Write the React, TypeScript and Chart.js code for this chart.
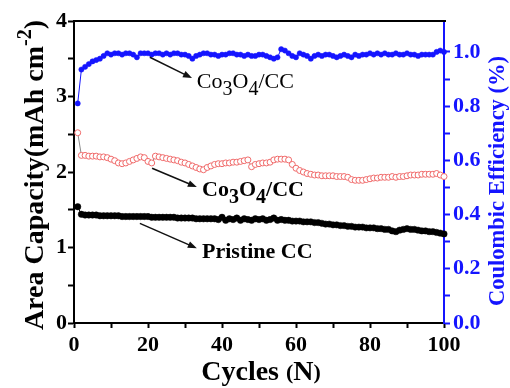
import React, { useEffect, useRef } from 'react';
import { Chart, registerables } from 'chart.js';

Chart.register(...registerables);

const FONT = '"Liberation Serif", "Times New Roman", serif';
const BLUE = '#1515ff';

// Cycle numbers 1..100
const cycles: number[] = Array.from({ length: 100 }, (_, i) => i + 1);

// Coulombic efficiency (right axis)
const coulombicEfficiency = [
  0.81, 0.935, 0.945, 0.955, 0.965, 0.97, 0.975, 0.985, 0.995, 0.99,
  0.995, 0.995, 0.99, 0.995, 0.995, 0.99, 0.98, 0.995, 0.995, 0.995,
  0.99, 0.995, 0.995, 0.99, 0.995, 0.99, 0.995, 0.995, 0.99, 0.99,
  0.985, 0.975, 0.985, 0.99, 0.995, 0.995, 0.99, 0.99, 0.985, 0.99,
  0.99, 0.995, 0.995, 0.99, 0.99, 0.985, 0.99, 0.985, 0.985, 0.99,
  0.99, 0.985, 0.98, 0.975, 0.98, 1.01, 1.005, 0.995, 0.985, 0.98,
  0.995, 0.99, 0.985, 0.975, 0.985, 0.99, 0.985, 0.99, 0.99, 0.985,
  0.98, 0.985, 0.99, 0.985, 0.98, 0.99, 0.985, 0.99, 0.99, 0.995,
  0.99, 0.995, 0.99, 0.995, 0.99, 0.99, 0.995, 0.99, 0.99, 0.995,
  0.99, 0.99, 0.985, 0.99, 0.99, 0.99, 0.99, 1.0, 1.005, 1.0,
];

// Co3O4/CC area capacity (left axis)
const co3o4Capacity = [
  2.52, 2.22, 2.22, 2.21, 2.21, 2.21, 2.20, 2.20, 2.19, 2.17,
  2.15, 2.12, 2.11, 2.12, 2.14, 2.16, 2.18, 2.20, 2.19, 2.14,
  2.12, 2.21, 2.20, 2.19, 2.18, 2.17, 2.16, 2.15, 2.13, 2.12,
  2.10, 2.08, 2.06, 2.04, 2.03, 2.06, 2.08, 2.10, 2.11, 2.11,
  2.12, 2.12, 2.13, 2.13, 2.14, 2.15, 2.16, 2.07, 2.10, 2.11,
  2.12, 2.12, 2.13, 2.16, 2.17, 2.17, 2.17, 2.16, 2.10, 2.05,
  2.02, 2.00, 1.98, 1.97, 1.96, 1.96, 1.95, 1.95, 1.95, 1.95,
  1.94, 1.94, 1.94, 1.93, 1.90, 1.89, 1.89, 1.89, 1.90, 1.91,
  1.92, 1.92, 1.93, 1.93, 1.93, 1.94, 1.93, 1.94, 1.94, 1.95,
  1.96, 1.96, 1.96, 1.97, 1.97, 1.97, 1.97, 1.98, 1.96, 1.94,
];

// Pristine CC area capacity (left axis)
const pristineCapacity = [
  1.54, 1.44, 1.43, 1.43, 1.43, 1.43, 1.42, 1.42, 1.42, 1.42,
  1.42, 1.42, 1.41, 1.41, 1.41, 1.41, 1.41, 1.41, 1.41, 1.41,
  1.40, 1.40, 1.40, 1.40, 1.40, 1.40, 1.40, 1.39, 1.39, 1.39,
  1.39, 1.39, 1.38, 1.38, 1.38, 1.38, 1.38, 1.38, 1.37, 1.40,
  1.36, 1.38, 1.37, 1.39, 1.36, 1.38, 1.37, 1.36, 1.38, 1.37,
  1.38, 1.36, 1.37, 1.39, 1.36, 1.37, 1.36, 1.36, 1.35, 1.35,
  1.35, 1.34, 1.34, 1.34, 1.33, 1.33, 1.32, 1.31, 1.31, 1.30,
  1.30, 1.29, 1.29, 1.28, 1.28, 1.27, 1.27, 1.27, 1.26, 1.26,
  1.26, 1.25, 1.25, 1.24, 1.24, 1.22, 1.21, 1.23, 1.24, 1.25,
  1.24, 1.24, 1.23, 1.22, 1.22, 1.21, 1.21, 1.20, 1.19, 1.18,
];

const rightTickValues = [0, 0.1, 0.2, 0.3, 0.4, 0.5, 0.6, 0.7, 0.8, 0.9, 1.0];

// Axis title pieces (superscript / subscript flagged)
type Piece = { t: string; sub?: boolean; sup?: boolean; small?: boolean };
const leftTitle: Piece[] = [{ t: 'Area Capacity(mAh cm' }, { t: '-2', sup: true }, { t: ')' }];
const rightTitle: Piece[] = [{ t: 'Coulombic Efficiency (%)' }];
const bottomTitle: Piece[] = [{ t: 'Cycles ' }, { t: '(', small: true }, { t: 'N' }, { t: ')', small: true }];

// Annotations, in data coordinates (cycle, area capacity)
const annotationTexts: Piece[][] = [
  [{ t: 'Co' }, { t: '3', sub: true }, { t: 'O' }, { t: '4', sub: true }, { t: '/CC' }],
  [{ t: 'Co' }, { t: '3', sub: true }, { t: 'O' }, { t: '4', sub: true }, { t: '/CC' }],
  [{ t: 'Pristine CC' }],
];
const annotationWeights = ['normal', 'bold', 'bold'];
const arrowFrom: [number, number][] = [[20.5, 3.52], [21.1, 2.05], [17.8, 1.32]];
const arrowTo: [number, number][] = [[31.9, 3.245], [33.2, 1.80], [33.2, 0.99]];
const textAt: [number, number][] = [[33.2, 3.19], [34.6, 1.76], [34.6, 0.94]];

const toXY = (xs: number[], ys: number[]) => xs.map((x, i) => ({ x, y: ys[i] }));

function drawPieces(ctx: any, pieces: Piece[], size: number, weight: string, cx: number, cy: number) {
  const fontFor = (p: Piece) => {
    const s = p.sup || p.sub ? size * 0.72 : p.small ? size * 0.78 : size;
    return `${weight} ${s}px ${FONT}`;
  };
  let total = 0;
  for (const p of pieces) {
    ctx.font = fontFor(p);
    total += ctx.measureText(p.t).width;
  }
  let x = cx - total / 2;
  ctx.textAlign = 'left';
  ctx.textBaseline = 'alphabetic';
  const baseY = cy + size * 0.34;
  for (const p of pieces) {
    ctx.font = fontFor(p);
    const dy = p.sup ? -size * 0.42 : p.sub ? size * 0.3 : p.small ? -size * 0.04 : 0;
    ctx.fillText(p.t, x, baseY + dy);
    x += ctx.measureText(p.t).width;
  }
}

const framePlugin = {
  id: 'frameAndNotes',
  afterDraw(chart: any) {
    const { ctx, chartArea, scales } = chart;
    ctx.save();
    // top frame line
    ctx.strokeStyle = '#000';
    ctx.lineWidth = 2;
    ctx.beginPath();
    ctx.moveTo(chartArea.left - 1, chartArea.top);
    ctx.lineTo(chartArea.right + 2, chartArea.top);
    ctx.stroke();

    // left axis title (rotated, reads bottom to top)
    ctx.save();
    ctx.translate(33, (chartArea.top + chartArea.bottom) / 2 + 3);
    ctx.rotate(-Math.PI / 2);
    ctx.fillStyle = '#000';
    drawPieces(ctx, leftTitle, 28, 'bold', 0, 0);
    ctx.restore();

    // right axis title (rotated, reads bottom to top)
    ctx.save();
    ctx.translate(496, (chartArea.top + chartArea.bottom) / 2 + 9);
    ctx.rotate(-Math.PI / 2);
    ctx.fillStyle = BLUE;
    drawPieces(ctx, rightTitle, 22.5, 'bold', 0, 0);
    ctx.restore();

    // bottom axis title
    ctx.fillStyle = '#000';
    drawPieces(ctx, bottomTitle, 28, 'bold', (chartArea.left + chartArea.right) / 2 + 2, 370.5);

    const xs = scales.x;
    const ys = scales.y;
    for (let i = 0; i < annotationTexts.length; i++) {
      const x1 = xs.getPixelForValue(arrowFrom[i][0]);
      const y1 = ys.getPixelForValue(arrowFrom[i][1]);
      const x2 = xs.getPixelForValue(arrowTo[i][0]);
      const y2 = ys.getPixelForValue(arrowTo[i][1]);
      const ang = Math.atan2(y2 - y1, x2 - x1);
      const headLen = 9;
      const headW = 3.5;
      ctx.strokeStyle = '#111';
      ctx.fillStyle = '#111';
      ctx.lineWidth = 1.5;
      ctx.beginPath();
      ctx.moveTo(x1, y1);
      ctx.lineTo(x2 - Math.cos(ang) * headLen * 0.8, y2 - Math.sin(ang) * headLen * 0.8);
      ctx.stroke();
      ctx.beginPath();
      ctx.moveTo(x2, y2);
      ctx.lineTo(
        x2 - Math.cos(ang) * headLen - Math.sin(ang) * headW,
        y2 - Math.sin(ang) * headLen + Math.cos(ang) * headW
      );
      ctx.lineTo(
        x2 - Math.cos(ang) * headLen + Math.sin(ang) * headW,
        y2 - Math.sin(ang) * headLen - Math.cos(ang) * headW
      );
      ctx.closePath();
      ctx.fill();

      let tx = xs.getPixelForValue(textAt[i][0]);
      const ty = ys.getPixelForValue(textAt[i][1]);
      const w = annotationWeights[i];
      ctx.textBaseline = 'middle';
      ctx.textAlign = 'left';
      ctx.fillStyle = '#000';
      for (const p of annotationTexts[i]) {
        const size = p.sub ? 20 : 22;
        ctx.font = `${w} ${size}px ${FONT}`;
        ctx.fillText(p.t, tx, p.sub ? ty + 8 : ty);
        tx += ctx.measureText(p.t).width;
      }
    }
    ctx.restore();
  },
};

export default function App() {
  const canvasRef = useRef<HTMLCanvasElement | null>(null);

  useEffect(() => {
    document.body.style.margin = '0';
    const canvas = canvasRef.current;
    if (!canvas) return;
    const chart = new Chart(canvas, {
      type: 'line',
      data: {
        datasets: [
          {
            label: 'Pristine CC',
            data: toXY(cycles, pristineCapacity),
            yAxisID: 'y',
            borderColor: '#000',
            borderWidth: 1,
            backgroundColor: '#000',
            pointBackgroundColor: '#000',
            pointBorderColor: '#000',
            pointStyle: 'circle',
            pointRadius: 3.2,
            pointBorderWidth: 0.5,
            clip: false,
          },
          {
            label: 'Co3O4/CC capacity',
            data: toXY(cycles, co3o4Capacity),
            yAxisID: 'y',
            borderColor: '#8c8c8c',
            borderWidth: 1,
            pointBackgroundColor: '#fff',
            pointBorderColor: '#f06a6a',
            pointStyle: 'circle',
            pointRadius: 3,
            pointBorderWidth: 1,
            clip: false,
          },
          {
            label: 'Co3O4/CC CE',
            data: toXY(cycles, coulombicEfficiency),
            yAxisID: 'y1',
            borderColor: BLUE,
            borderWidth: 1,
            pointBackgroundColor: BLUE,
            pointBorderColor: BLUE,
            pointStyle: 'circle',
            pointRadius: 2.6,
            pointBorderWidth: 0.5,
            clip: false,
          },
        ],
      },
      options: {
        animation: false,
        responsive: false,
        devicePixelRatio: 1,
        layout: { padding: { top: 21, left: 0, right: 0, bottom: 0 } },
        plugins: {
          legend: { display: false },
          tooltip: { enabled: false },
        },
        scales: {
          x: {
            type: 'linear',
            position: 'bottom',
            min: 0,
            max: 100,
            afterFit: (s: any) => { s.height = 65; },
            ticks: {
              stepSize: 10,
              autoSkip: false,
              maxRotation: 0,
              padding: 4,
              color: '#000',
              font: { family: FONT, size: 22, weight: 'bold' },
              callback: (v: any) => (Number(v) % 20 === 0 ? String(v) : ''),
            },
            grid: { drawOnChartArea: false, tickLength: 5, color: '#000', tickWidth: 2 },
            border: { color: '#000', width: 2 },
            title: { display: false, text: 'Cycles (N)' },
          },
          y: {
            type: 'linear',
            position: 'left',
            min: 0,
            max: 4,
            afterFit: (s: any) => { s.width = 74; },
            ticks: {
              stepSize: 0.5,
              autoSkip: false,
              padding: 1,
              color: '#000',
              font: { family: FONT, size: 22, weight: 'bold' },
              callback: (v: any) => (Number.isInteger(Number(v)) ? String(v) : ''),
            },
            grid: { drawOnChartArea: false, tickLength: 6, color: '#000', tickWidth: 2 },
            border: { color: '#000', width: 2 },
            title: { display: false, text: 'Area Capacity(mAh cm-2)' },
          },
          y1: {
            type: 'linear',
            position: 'right',
            min: 0,
            max: 1.114,
            afterFit: (s: any) => { s.width = 66; },
            afterBuildTicks: (s: any) => {
              s.ticks = rightTickValues.map((v) => ({ value: v }));
            },
            ticks: {
              autoSkip: false,
              padding: 3,
              color: BLUE,
              font: { family: FONT, size: 22, weight: 'bold' },
              callback: (v: any) => (Math.round(Number(v) * 10) % 2 === 0 ? Number(v).toFixed(1) : ''),
            },
            grid: { drawOnChartArea: false, tickLength: 6, color: BLUE, tickWidth: 2 },
            border: { color: BLUE, width: 2 },
            title: { display: false, text: 'Coulombic Efficiency (%)' },
          },
        },
      },
      plugins: [framePlugin],
    } as any);
    return () => chart.destroy();
  }, []);

  return (
    <div style={{ width: 510, height: 388 }}>
      <canvas ref={canvasRef} width={510} height={388} style={{ display: 'block' }} />
    </div>
  );
}
